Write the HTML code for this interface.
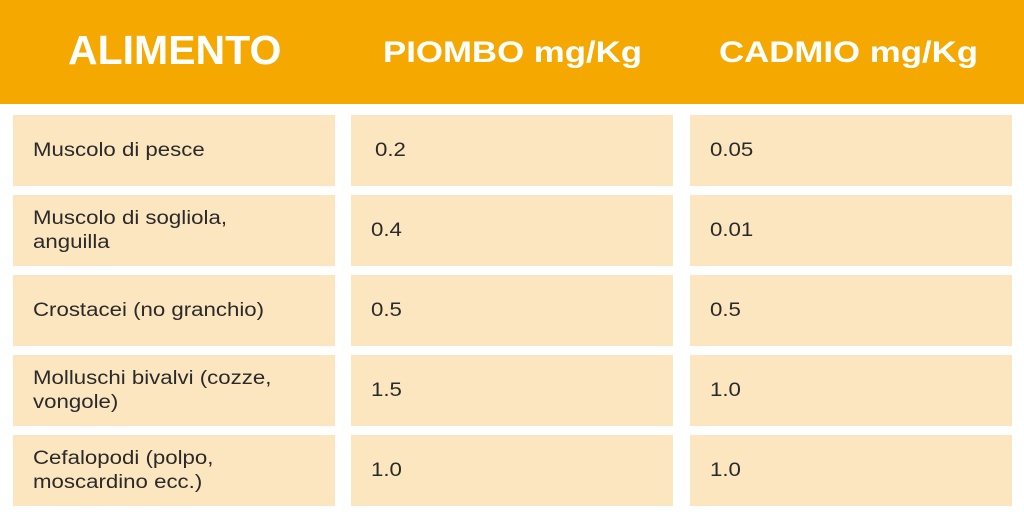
<!DOCTYPE html>
<html><head><meta charset="utf-8"><style>
body{margin:0;width:1024px;height:512px;background:#fff;position:relative;overflow:hidden;font-family:"Liberation Sans",sans-serif}
.hdr{position:absolute;left:0;top:0;width:1024px;height:104px;background:#F5A800}
.h{position:absolute;color:#fff;font-weight:bold;white-space:nowrap;transform-origin:left top}
.c{position:absolute;background:#FCE6BF;height:71px;display:flex;align-items:center;color:#2a2a2a;font-size:19px;line-height:24px;box-sizing:border-box;padding-left:20px}
.c span{display:inline-block;transform:scaleX(1.17);transform-origin:left center;white-space:nowrap}
</style></head><body>
<div class="hdr"></div>
<div class="h" style="left:68px;top:27px;font-size:41px;transform:scaleX(1.0)">ALIMENTO</div>
<div class="h" style="left:383px;top:36px;font-size:30px;transform:scaleX(1.16)">PIOMBO mg/Kg</div>
<div class="h" style="left:719px;top:36px;font-size:30px;transform:scaleX(1.16)">CADMIO mg/Kg</div>

<div class="c" style="left:13px;top:115px;width:322px"><span>Muscolo di pesce</span></div>
<div class="c" style="left:351px;top:115px;width:322px;padding-left:24px"><span>0.2</span></div>
<div class="c" style="left:690px;top:115px;width:322px"><span>0.05</span></div>

<div class="c" style="left:13px;top:195px;width:322px"><span>Muscolo di sogliola,<br>anguilla</span></div>
<div class="c" style="left:351px;top:195px;width:322px"><span>0.4</span></div>
<div class="c" style="left:690px;top:195px;width:322px"><span>0.01</span></div>

<div class="c" style="left:13px;top:275px;width:322px"><span>Crostacei (no granchio)</span></div>
<div class="c" style="left:351px;top:275px;width:322px"><span>0.5</span></div>
<div class="c" style="left:690px;top:275px;width:322px"><span>0.5</span></div>

<div class="c" style="left:13px;top:355px;width:322px"><span>Molluschi bivalvi (cozze,<br>vongole)</span></div>
<div class="c" style="left:351px;top:355px;width:322px"><span>1.5</span></div>
<div class="c" style="left:690px;top:355px;width:322px"><span>1.0</span></div>

<div class="c" style="left:13px;top:435px;width:322px"><span>Cefalopodi (polpo,<br>moscardino ecc.)</span></div>
<div class="c" style="left:351px;top:435px;width:322px"><span>1.0</span></div>
<div class="c" style="left:690px;top:435px;width:322px"><span>1.0</span></div>
</body></html>
